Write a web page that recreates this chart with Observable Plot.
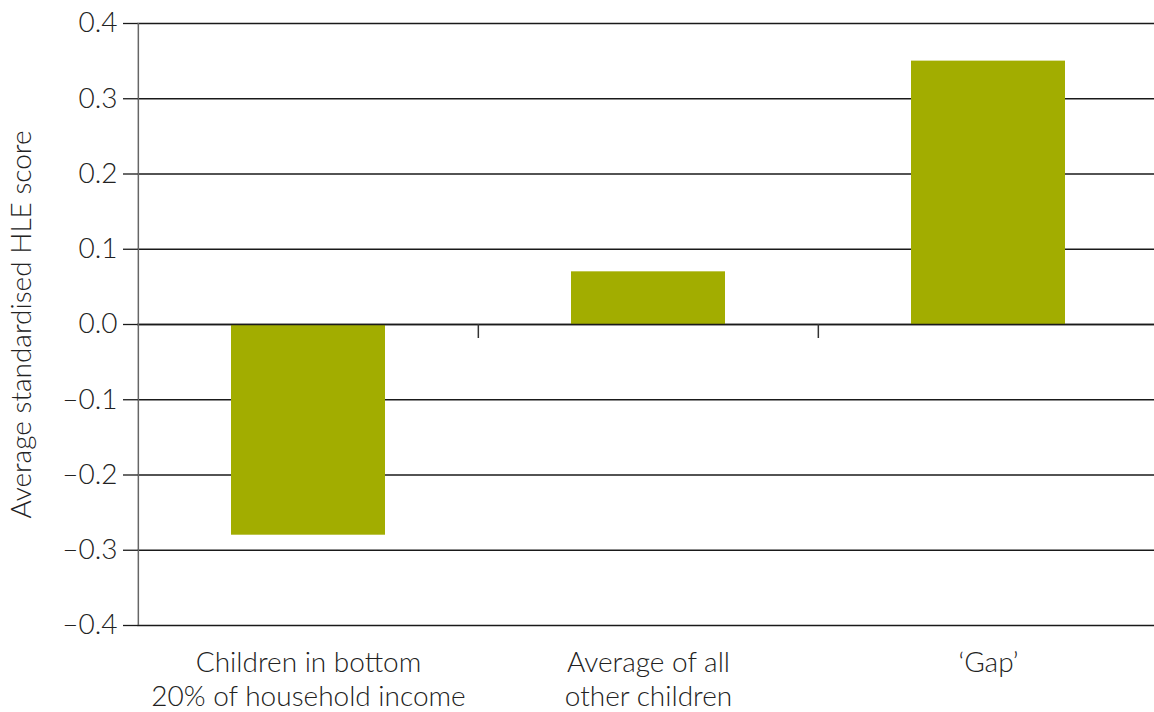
<!DOCTYPE html>
<html>
<head>
<meta charset="utf-8">
<script src="https://cdn.jsdelivr.net/npm/d3@7"></script>
<script src="https://cdn.jsdelivr.net/npm/@observablehq/plot@0.6"></script>
<style>
  html, body { margin: 0; padding: 0; background: #fff; }
  #chart svg { display: block; }
</style>
</head>
<body>
<div id="chart"></div>
<script>
const categories = ["Children in bottom\n20% of household income", "Average of all\nother children", "\u2018Gap\u2019"];
const values = [-0.28, 0.07, 0.35];
const yTicks = [-0.4, -0.3, -0.2, -0.1, 0.0, 0.1, 0.2, 0.3, 0.4];
const yLabel = "Average standardised HLE score";

const data = categories.map((c, i) => ({category: c, value: values[i]}));

const W = 1154, H = 712, mL = 137, mR = -4, mT = 23, mB = 87;
const step = (W - mL - mR) / categories.length;
const fmt = d => (d < 0 ? "\u2013" : "") + Math.abs(d).toFixed(1);

const chart = Plot.plot({
  width: W,
  height: H,
  marginLeft: mL,
  marginRight: mR,
  marginTop: mT,
  marginBottom: mB,
  style: {fontFamily: "Lato", fontWeight: 300, fontSize: "28px", color: "#222", background: "#fff", overflow: "hidden"},
  x: {domain: categories, paddingInner: 0, paddingOuter: 0},
  y: {domain: [-0.4, 0.4]},
  marks: [
    Plot.ruleY(yTicks, {stroke: "#1a1a1a", strokeWidth: 1.3}),
    Plot.barY(data, {x: "category", y: "value", fill: "#A2AD00", insetLeft: 93, insetRight: 93}),
    Plot.ruleY([0], {stroke: "#1a1a1a", strokeWidth: 1.6}),
    Plot.ruleX(categories.slice(1), {x: d => d, y1: 0, y2: 0, insetBottom: -14, dx: -step / 2, stroke: "#333", strokeWidth: 1.5}),
    Plot.ruleX([categories[0]], {x: d => d, dx: -step / 2, stroke: "#666", strokeWidth: 1.5}),
    Plot.axisY({ticks: yTicks, tickFormat: fmt, tickSize: 14, tickPadding: 6, stroke: "#1a1a1a", strokeWidth: 1.3,
      label: yLabel, labelAnchor: "center", labelArrow: "none", labelOffset: 126, fontSize: 28}),
    Plot.axisX({tickSize: 0, tickPadding: 23, label: null, lineHeight: 1.2, fontSize: 28})
  ]
});
document.getElementById("chart").appendChild(chart);
</script>
</body>
</html>
